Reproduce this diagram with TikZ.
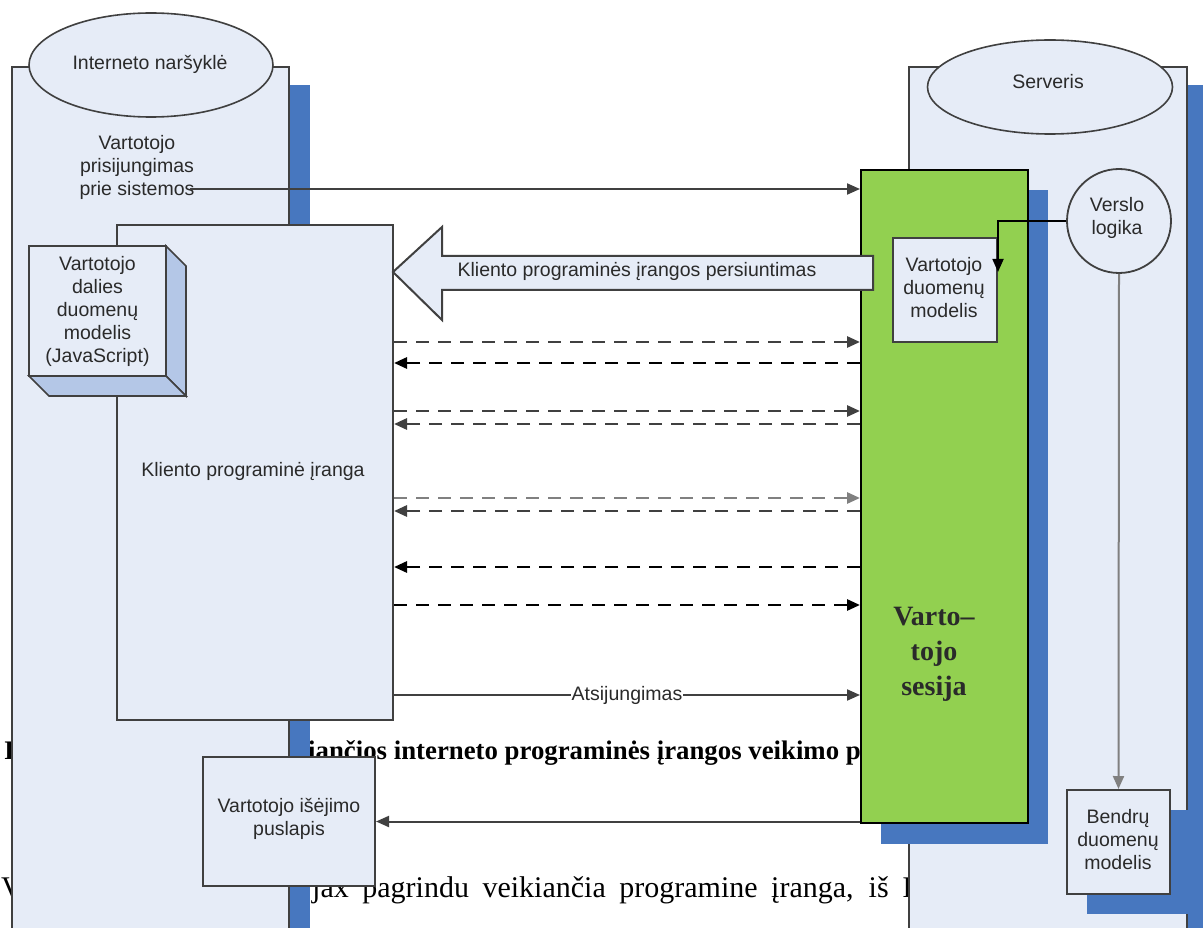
\documentclass[tikz,border=0pt]{standalone}
\usepackage{fontspec}
\setmainfont{Liberation Serif}
\newfontfamily\labelfont{Liberation Sans}
\usetikzlibrary{arrows.meta,calc,shapes.geometric}

\definecolor{paleblue}{HTML}{E6ECF7}
\definecolor{shadowblue}{HTML}{4777BF}
\definecolor{sessgreen}{HTML}{92D050}
\definecolor{sideblue}{HTML}{B4C7E7}
\definecolor{edge}{HTML}{404040}
\definecolor{labeltext}{HTML}{2A2A2A}
\definecolor{midgray}{HTML}{808080}

\begin{document}
\begin{tikzpicture}[x=1pt,y=-1pt,
  lbl/.style={font=\labelfont\fontsize{19.5}{23}\selectfont, text=labeltext, align=center, inner sep=0pt},
  panel/.style={draw=edge, line width=2pt, fill=paleblue, rectangle, inner sep=0pt},
  shade/.style={fill=shadowblue, draw=none, rectangle, inner sep=0pt},
  tip/.style={-{Triangle[length=13pt,width=11pt]}},
  msg/.style={tip, line width=2pt, draw=edge},
  dmsg/.style={tip, line width=2.8pt, dash pattern=on 13pt off 9pt},
  bgtext/.style={anchor=base west, inner sep=0pt, text=black},
]
\useasboundingbox (0,0) rectangle (1203,928);
\clip (0,0) rectangle (1203,928);
\fill[white] (0,0) rectangle (1203,928);

% text of the page lying behind the diagram
\node[bgtext, font=\bfseries\fontsize{26.8}{30}\selectfont] (capA) at (4,759) {I};
\node[bgtext, font=\bfseries\fontsize{26.8}{30}\selectfont] (capB) at (308,759) {iančios interneto programinės įrangos veikimo pri};
\node[bgtext, font=\fontsize{30}{34}\selectfont] (bodyA) at (1,897) {V};
\node[bgtext, font=\fontsize{30}{34}\selectfont] (bodyB) at (312,897) {\makebox[600pt][s]{jax pagrindu veikiančia programine įranga, iš I}};

% browser and server columns with their shadows
\node[shade, minimum width=277pt, minimum height=873pt] (browsershade) at (171.5,521.5) {};
\node[panel, minimum width=277pt, minimum height=873pt] (browser) at (150.5,503.5) {};
\node[shade, minimum width=278pt, minimum height=873pt] (servershade) at (1068,521.5) {};
\node[panel, minimum width=278pt, minimum height=873pt] (server) at (1048,503.5) {};

\node[ellipse, draw=edge, line width=1.6pt, fill=paleblue, minimum width=244pt, minimum height=104pt, inner sep=0pt] (browserhead) at (151,65) {};
\node[lbl] (browsertitle) at (150,64) {Interneto naršyklė};
\node[ellipse, draw=edge, line width=1.6pt, fill=paleblue, minimum width=245pt, minimum height=94pt, inner sep=0pt] (serverhead) at (1050,87) {};
\node[lbl] (servertitle) at (1048,82) {Serveris};

\node[lbl] (login) at (137,167) {Vartotojo\\prisijungimas\\prie sistemos};

% client software
\node[panel, minimum width=276pt, minimum height=495pt] (client) at (255,472.5) {};
\node[lbl] (clienttitle) at (253,471) {Kliento programinė įranga};

% client-side data model drawn as a block
\fill[sideblue, draw=edge, line width=1.6pt] (166,246) -- (186,266) -- (186,396) -- (166,376) -- cycle;
\fill[sideblue, draw=edge, line width=1.6pt] (29,376) -- (166,376) -- (186,396) -- (49,396) -- cycle;
\node[panel, line width=1.6pt, minimum width=137pt, minimum height=130pt] (clientmodel) at (97.5,311) {};
\node[lbl] (clientmodeltext) at (97.5,311) {Vartotojo\\dalies\\duomenų\\modelis\\(JavaScript)};

% user session
\node[shade, minimum width=167pt, minimum height=654pt] (sessshade) at (964.5,517) {};
\node[rectangle, draw=black, line width=2pt, fill=sessgreen, minimum width=167pt, minimum height=653pt, inner sep=0pt] (sess) at (944.5,496.5) {};
\node[font=\bfseries\fontsize{28}{35}\selectfont, text=labeltext, align=center, inner sep=0pt] (sesstitle) at (934,654) {Varto--\\tojo\\sesija};

% transfer of the client software
\draw[draw=edge, line width=2pt, fill=paleblue, line join=miter]
  (393,272) -- (442,227) -- (442,256) -- (873,256) -- (873,290) -- (442,290) -- (442,320) -- cycle;
\node[lbl] (xferlabel) at (637,271) {Kliento programinės įrangos persiuntimas};

% server-side parts
\node[panel, minimum width=104pt, minimum height=104pt] (vdm) at (945,290) {};
\node[lbl] (vdmtext) at (944,288) {Vartotojo\\duomenų\\modelis};
\node[circle, draw=edge, line width=1.8pt, fill=paleblue, minimum size=104pt, inner sep=0pt] (logic) at (1119,221) {};
\node[lbl] (logictext) at (1117,218) {Verslo\\logika};
\node[shade, minimum width=103pt, minimum height=104pt] (commonshade) at (1138.5,862) {};
\node[panel, minimum width=103pt, minimum height=104pt] (common) at (1118.5,842) {};
\node[lbl] (commontext) at (1118,840) {Bendrų\\duomenų\\modelis};

% logout page
\node[panel, minimum width=172pt, minimum height=129pt] (exitpage) at (289,821.5) {};
\node[lbl] (exittext) at (289,819) {Vartotojo išėjimo\\puslapis};

% connectors
\coordinate (loginstart) at (190,189);
\draw[msg] (loginstart) -- (sess.west |- loginstart);

\coordinate (r1) at (0,342);
\coordinate (r2) at (0,363);
\coordinate (r3) at (0,411);
\coordinate (r4) at (0,424);
\coordinate (r5) at (0,498);
\coordinate (r6) at (0,511);
\coordinate (r7) at (0,567);
\coordinate (r8) at (0,605);
\coordinate (r9) at (0,695);

\draw[dmsg, draw=edge] (client.east |- r1) -- (sess.west |- r1);
\draw[dmsg, draw=black] (sess.west |- r2) -- (client.east |- r2);
\draw[dmsg, draw=edge] (client.east |- r3) -- (sess.west |- r3);
\draw[dmsg, draw=edge] (sess.west |- r4) -- (client.east |- r4);
\draw[dmsg, draw=midgray] (client.east |- r5) -- (sess.west |- r5);
\draw[dmsg, draw=edge] (sess.west |- r6) -- (client.east |- r6);
\draw[dmsg, draw=black] (sess.west |- r7) -- (client.east |- r7);
\draw[dmsg, draw=black] (client.east |- r8) -- (sess.west |- r8);

\draw[msg] (client.east |- r9) -- node[lbl, fill=white, inner xsep=1pt, inner ysep=2pt] (logout) {Atsijungimas} (sess.west |- r9);
\draw[msg] (sess.west |- exitpage.east) -- (exitpage.east);

\draw[msg, line width=1.8pt, draw=black] (logic.west) -| ([yshift=18pt]vdm.east);
\draw[msg, draw=gray] (logic.south) -- (common.north);
\end{tikzpicture}
\end{document}
